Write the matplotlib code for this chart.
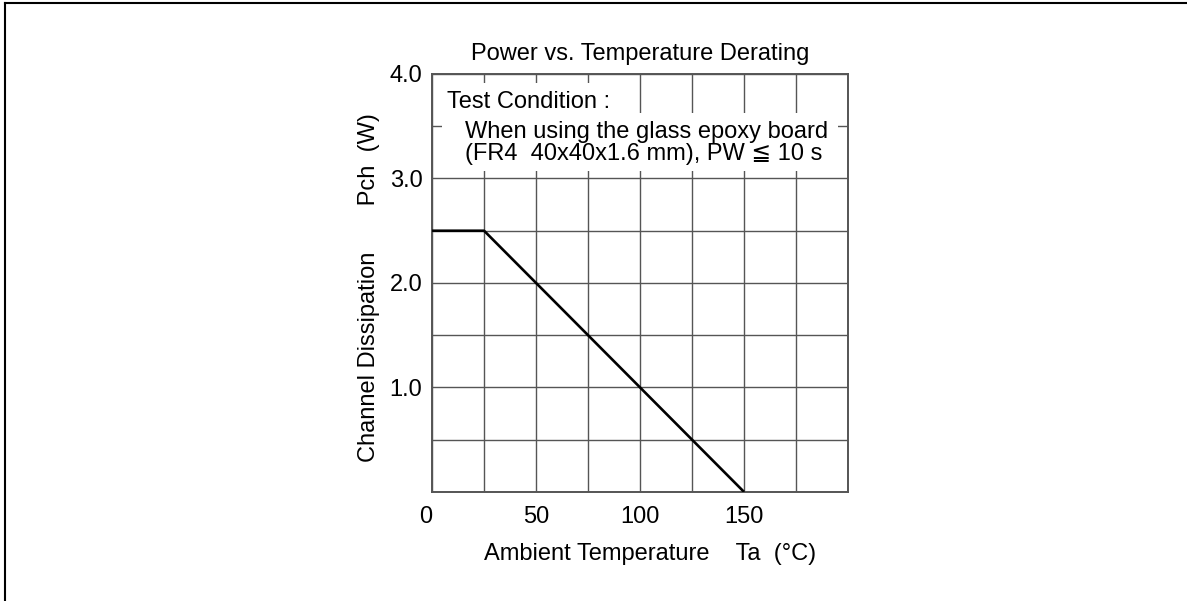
import matplotlib
matplotlib.use('Agg')
import matplotlib.pyplot as plt
from matplotlib.lines import Line2D
from matplotlib.patches import Rectangle

plt.rcParams['font.family'] = ['Liberation Sans', 'DejaVu Sans']

# derating curve
temps = [0, 25, 150]
power = [2.5, 2.5, 0.0]

x_ticks = [0, 25, 50, 75, 100, 125, 150, 175, 200]
x_labels = ['0', '', '50', '', '100', '', '150', '', '']
y_ticks = [0, 0.5, 1.0, 1.5, 2.0, 2.5, 3.0, 3.5, 4.0]
y_labels = ['', '', '1.0', '', '2.0', '', '3.0', '', '4.0']

grid_col = '#555555'
fs = 17

fig = plt.figure(figsize=(11.87, 6.01), dpi=100)
ax = fig.add_axes([0.364, 0.1814, 0.3505, 0.6955])

ax.plot(temps, power, color='black', lw=1.9, zorder=4, solid_capstyle='butt')

ax.set_xlim(0, 200)
ax.set_ylim(0, 4.0)
ax.set_xticks(x_ticks)
ax.set_xticklabels(x_labels, fontsize=fs)
ax.set_yticks(y_ticks)
ax.set_yticklabels(y_labels, fontsize=fs)
ax.tick_params(axis='both', length=0)
ax.tick_params(axis='x', pad=10)
ax.tick_params(axis='y', pad=7)
ax.get_xticklabels()[0].set_horizontalalignment('right')

ax.set_axisbelow(True)
ax.grid(True, color=grid_col, lw=1.0)
for s in ax.spines.values():
    s.set_color(grid_col)
    s.set_linewidth(1.4)

# white boxes behind the test condition note
ax.add_patch(Rectangle((0.019, 0.907), 0.433, 0.071, transform=ax.transAxes,
                       facecolor='white', edgecolor='none', zorder=1.5))
ax.add_patch(Rectangle((0.024, 0.768), 0.951, 0.139, transform=ax.transAxes,
                       facecolor='white', edgecolor='none', zorder=1.5))

ax.text(0.036, 0.932, 'Test Condition :', transform=ax.transAxes, fontsize=fs,
        ha='left', va='center', zorder=3)
ax.text(0.079, 0.861, 'When using the glass epoxy board', transform=ax.transAxes,
        fontsize=fs, ha='left', va='center', zorder=3)
ax.text(0.079, 0.808, '(FR4  40x40x1.6 mm), PW \u2266 10 s', transform=ax.transAxes,
        fontsize=fs, ha='left', va='center', zorder=3)

ax.set_title('Power vs. Temperature Derating', fontsize=fs, pad=10)
ax.set_xlabel('Ambient Temperature    Ta  (\u00b0C)', fontsize=fs)
ax.xaxis.set_label_coords(0.524, -0.122)
ax.set_ylabel('Channel Dissipation       Pch  (W)', fontsize=fs)
ax.yaxis.set_label_coords(-0.125, 0.49)

# outer frame (top and left edges)
fig.add_artist(Line2D([5 / 1187, 1.0], [1 - 3 / 601, 1 - 3 / 601], color='black', lw=1.5))
fig.add_artist(Line2D([5 / 1187, 5 / 1187], [0.0, 1 - 3 / 601], color='black', lw=1.5))

fig.savefig('out.png', dpi=100)
